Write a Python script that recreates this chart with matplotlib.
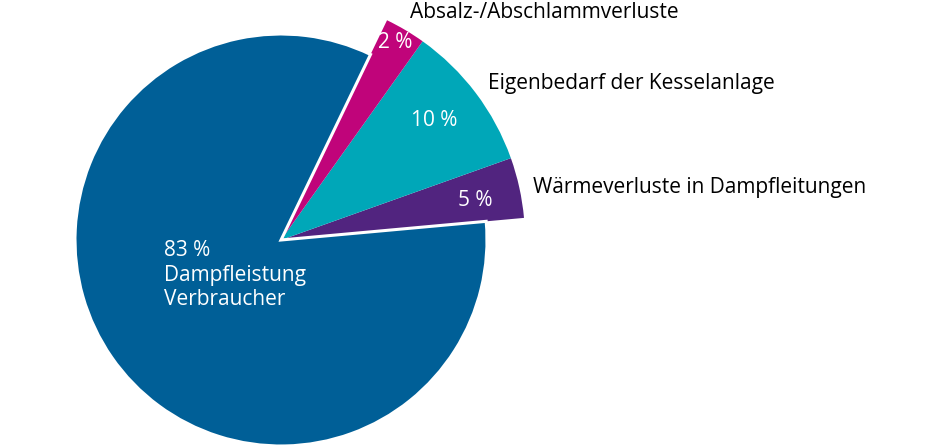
import matplotlib.pyplot as plt

# slice shares as drawn (clockwise from the purple slice), labels as printed
names = ['Wärmeverluste in Dampfleitungen', 'Eigenbedarf der Kesselanlage',
         'Absalz-/Abschlammverluste', 'Dampfleistung\nVerbraucher']
shares = [4.0, 9.7, 2.7, 83.6]
pct_labels = ['5 %', '10 %', '2 %', '83 %']
colors = ['#51247f', '#00a7b8', '#c0047a', '#005f97']

W, H = 945, 447
plt.rcParams['font.family'] = ['Open Sans', 'DejaVu Sans']

fig = plt.figure(figsize=(W / 100, H / 100), dpi=100)
ax = fig.add_axes([0, 0, 1, 1])

cx, cy = 281, H - 240

# outer ring: the three small slices, larger radius
small, _ = ax.pie(shares, colors=colors, startangle=5.2, radius=244,
                  center=(cx, cy), frame=True,
                  wedgeprops=dict(linewidth=0))
small[3].set_visible(False)

# big slice, smaller radius, white edge
big, _ = ax.pie(shares, colors=colors, startangle=5.2, radius=206,
                center=(cx, cy), frame=True,
                wedgeprops=dict(edgecolor='white', linewidth=2.2))
for w in big[:3]:
    w.set_visible(False)
ax.set_xlim(0, W)
ax.set_ylim(0, H)
ax.set_aspect('equal')
ax.axis('off')

fs = 15
# percentages inside the slices
ax.text(475, H - 201, pct_labels[0], color='white', fontsize=fs, ha='center', va='center')
ax.text(434, H - 121, pct_labels[1], color='white', fontsize=fs, ha='center', va='center')
ax.text(395, H - 43, pct_labels[2], color='white', fontsize=fs, ha='center', va='center')
ax.text(164, H - 275, pct_labels[3] + '\n' + names[3], color='white', fontsize=fs,
        ha='left', va='center', linespacing=1.2)

# outside labels
ax.text(533, H - 187, names[0], color='black', fontsize=fs, ha='left', va='center')
ax.text(488, H - 84, names[1], color='black', fontsize=fs, ha='left', va='center')
ax.text(410, H - 12, names[2], color='black', fontsize=fs, ha='left', va='center')

fig.savefig('out.png', dpi=100)
